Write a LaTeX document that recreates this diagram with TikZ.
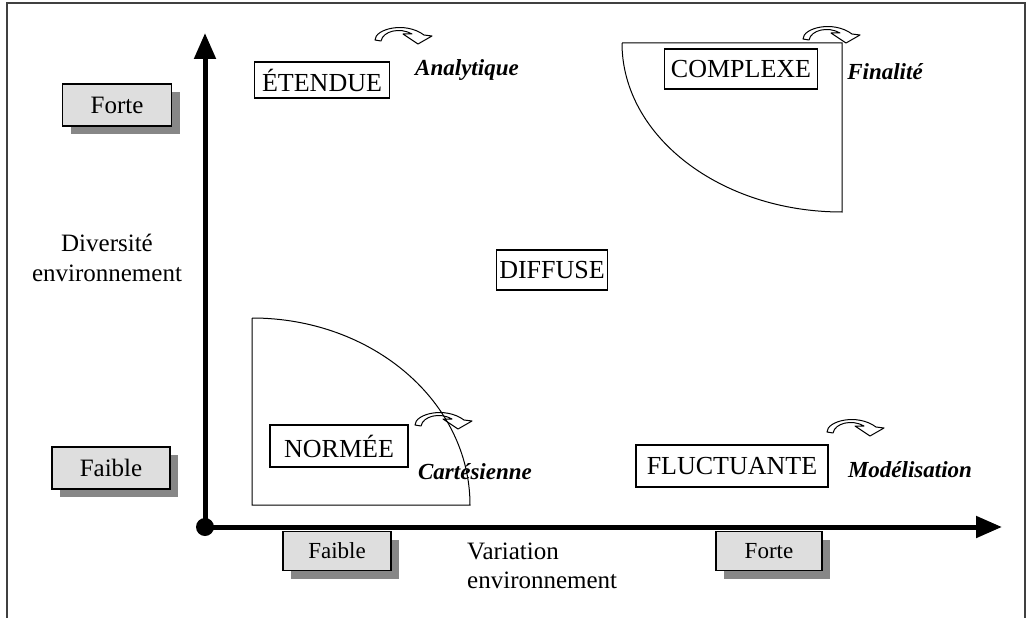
\documentclass[tikz,border=0pt]{standalone}
\usepackage{fontspec}
\setmainfont{Liberation Serif}
\usetikzlibrary{arrows.meta,shadows}

\tikzset{
  zone/.style={draw, line width=1.2pt, inner sep=0pt, font=\fontsize{26}{30}\selectfont},
  level/.style={draw, line width=1.2pt, fill=black!13, inner sep=0pt,
    drop shadow={shadow xshift=8pt, shadow yshift=-8pt, fill=black!47, opacity=1}},
  mode/.style={font=\fontsize{23}{27}\selectfont\bfseries\itshape},
  axis/.style={line width=5pt, -{Triangle[length=26pt,width=21pt]}},
  bentarrow/.pic={
    \draw[line width=1pt, line join=round] (0,13) .. controls (0,2) and (30,-6) .. (49,8)
      -- (57,9) -- (43,17) -- (28,7) -- (37,7) .. controls (25,0) and (8,4) .. (6,14) -- cycle;
  }
}

\begin{document}
\begin{tikzpicture}[x=1pt, y=-1pt]
    \useasboundingbox (0,0) rectangle (1028,618);
    \draw[line width=2pt, black!75] (7,618) -- (7,3) -- (1025,3) -- (1025,618);

    \coordinate (origin) at (205,527);
    \coordinate (ytip) at (205,33);
    \coordinate (xtip) at (1002,527);

    \node[level, minimum width=109pt, minimum height=42pt, font=\fontsize{25}{29}\selectfont] (yhigh) at (117,105) {Forte};
    \node[level, minimum width=118pt, minimum height=42pt, font=\fontsize{25}{29}\selectfont] (ylow)  at (111,468) {Faible};
    \node[level, minimum width=108pt, minimum height=39pt, font=\fontsize{23}{27}\selectfont] (xlow)  at (337,551) {Faible};
    \node[level, minimum width=106pt, minimum height=39pt, font=\fontsize{23}{27}\selectfont] (xhigh) at (769,551) {Forte};

    \node[align=center, font=\fontsize{25}{30}\selectfont] (ylabel) at (107,258) {Diversité\\environnement};
    \node[align=left, anchor=west, inner sep=0pt, font=\fontsize{25}{29}\selectfont] (xlabel) at (467,566) {Variation\\environnement};

    \draw[line width=1pt] (622,43) -- (842,43) -- (842,212) .. controls (720.5,212) and (622,136.3) .. (622,43);
    \draw[line width=1pt] (252,318) -- (252,505) -- (470,505) .. controls (470,401.7) and (372.4,318) .. (252,318);

    \node[zone, minimum width=135pt, minimum height=36pt] (etendue)  at (322,80)  {ÉTENDUE};
    \node[zone, minimum width=153pt, minimum height=40pt] (complexe) at (741,69)  {COMPLEXE};
    \node[zone, minimum width=111pt, minimum height=40pt] (diffuse)  at (552,270) {DIFFUSE};
    \node[zone, minimum width=138pt, minimum height=42pt] (normee)   at (339,446) {NORMÉE};
    \node[zone, minimum width=192pt, minimum height=42pt] (fluct)    at (732,466) {FLUCTUANTE};

    \node[mode] (analytique) at (467,70)  {Analytique};
    \node[mode] (finalite)   at (885,72)  {Finalité};
    \node[mode] (cartes)     at (475,472) {Cartésienne};
    \node[mode] (modelis)    at (910,470) {Modélisation};

    \pic at (375,27)  {bentarrow};
    \pic at (803,26)  {bentarrow};
    \pic at (415,412) {bentarrow};
    \pic at (827,419) {bentarrow};

    \draw[axis] (origin) -- (ytip);
    \draw[axis] (origin) -- (xtip);
    \fill (origin) circle (9);
\end{tikzpicture}
\end{document}
